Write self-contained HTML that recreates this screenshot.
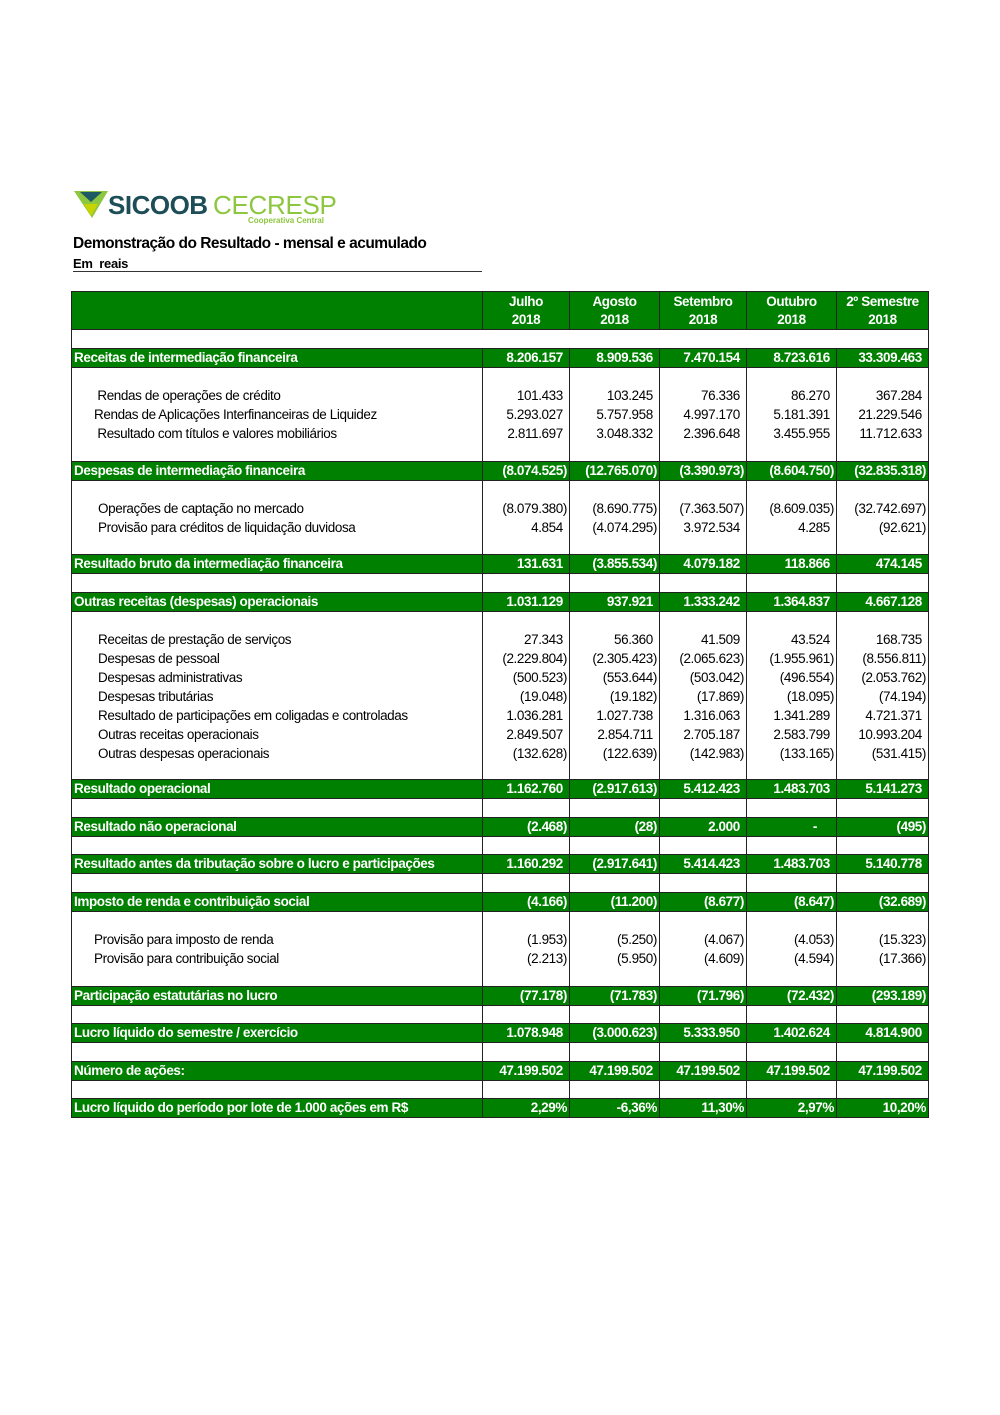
<!DOCTYPE html>
<html><head><meta charset="utf-8">
<style>
body{margin:0;width:1000px;height:1415px;background:#fff;position:relative;font-family:"Liberation Sans",Arial,sans-serif;}
.title{position:absolute;left:73px;top:235px;font-size:15.5px;font-weight:bold;letter-spacing:-0.5px;}
.sub{position:absolute;left:73px;top:256px;font-size:13px;font-weight:bold;letter-spacing:-0.3px;}
.hl{position:absolute;left:73px;top:271px;width:409px;height:1px;background:#333;}
table{position:absolute;left:71px;top:291px;border-collapse:collapse;table-layout:fixed;width:857px;}
td{border:1px solid #222;padding:0;font-size:13.5px;letter-spacing:-0.4px;overflow:hidden;white-space:nowrap;}
tr.g td{background:#008000;color:#fff;font-weight:bold;height:18px;line-height:18px;font-size:13.5px;}
tr.g td.l{padding-left:2px;}
td.n{text-align:right;padding-right:2px;}
.h td{background:#008000;color:#fff;font-weight:bold;text-align:center;line-height:18px;height:37px;font-size:13.5px;}
tr.d td{vertical-align:top;padding-top:18px;line-height:19px;}
tr.d td.n{padding-right:2px;}
tr.b td{height:18px;}
tr.b.s td{height:17px;}
.p{visibility:hidden;}
</style></head><body>
<svg style="position:absolute;left:72px;top:188px" width="272" height="40">
<polygon points="2,3 36,3 20,30" fill="#8dc63f"/>
<polygon points="8,4 30,4 19,14" fill="#1d5a63"/>
<polygon points="12,16 26,16 19,28" fill="#c8d400"/>
<text x="36" y="26" font-family="Liberation Sans,Arial,sans-serif" font-weight="bold" font-size="26" fill="#1d4d57" letter-spacing="-0.5">SICOOB</text>
<text x="141" y="26" font-family="Liberation Sans,Arial,sans-serif" font-size="26" fill="#8dc63f" letter-spacing="-0.3">CECRESP</text>
<text x="176" y="35" font-family="Liberation Sans,Arial,sans-serif" font-weight="bold" font-size="8" fill="#8dc63f">Cooperativa Central</text>
</svg>
<div class="title">Demonstração do Resultado - mensal e acumulado</div>
<div class="sub">Em&nbsp; reais</div>
<div class="hl"></div>
<table>
<colgroup><col style="width:411px"><col style="width:87px"><col style="width:90px"><col style="width:87px"><col style="width:90px"><col style="width:92px"></colgroup>
<tr class="h"><td></td><td>Julho<br>2018</td><td>Agosto<br>2018</td><td>Setembro<br>2018</td><td>Outubro<br>2018</td><td>2º Semestre<br>2018</td></tr>
<tr class="b"><td colspan="6"></td></tr>
<tr class="g"><td class="l">Receitas de intermediação financeira</td><td class="n">8.206.157<span class="p">)</span></td><td class="n">8.909.536<span class="p">)</span></td><td class="n">7.470.154<span class="p">)</span></td><td class="n">8.723.616<span class="p">)</span></td><td class="n">33.309.463<span class="p">)</span></td></tr>
<tr class="d" style="height:94px"><td style="padding-left:22px">&nbsp;Rendas de operações de crédito<br>Rendas de Aplicações Interfinanceiras de Liquidez<br>&nbsp;Resultado com títulos e valores mobiliários</td>
<td class="n">101.433<span class="p">)</span><br>5.293.027<span class="p">)</span><br>2.811.697<span class="p">)</span></td>
<td class="n">103.245<span class="p">)</span><br>5.757.958<span class="p">)</span><br>3.048.332<span class="p">)</span></td>
<td class="n">76.336<span class="p">)</span><br>4.997.170<span class="p">)</span><br>2.396.648<span class="p">)</span></td>
<td class="n">86.270<span class="p">)</span><br>5.181.391<span class="p">)</span><br>3.455.955<span class="p">)</span></td>
<td class="n">367.284<span class="p">)</span><br>21.229.546<span class="p">)</span><br>11.712.633<span class="p">)</span></td></tr>
<tr class="g"><td class="l">Despesas de intermediação financeira</td><td class="n">(8.074.525)</td><td class="n">(12.765.070)</td><td class="n">(3.390.973)</td><td class="n">(8.604.750)</td><td class="n">(32.835.318)</td></tr>
<tr class="d" style="height:74px"><td style="padding-left:26px">Operações de captação no mercado<br>Provisão para créditos de liquidação duvidosa</td>
<td class="n">(8.079.380)<br>4.854<span class="p">)</span></td>
<td class="n">(8.690.775)<br>(4.074.295)</td>
<td class="n">(7.363.507)<br>3.972.534<span class="p">)</span></td>
<td class="n">(8.609.035)<br>4.285<span class="p">)</span></td>
<td class="n">(32.742.697)<br>(92.621)</td></tr>
<tr class="g"><td class="l">Resultado bruto da intermediação financeira</td><td class="n">131.631<span class="p">)</span></td><td class="n">(3.855.534)</td><td class="n">4.079.182<span class="p">)</span></td><td class="n">118.866<span class="p">)</span></td><td class="n">474.145<span class="p">)</span></td></tr>
<tr class="b"><td></td><td></td><td></td><td></td><td></td><td></td></tr>
<tr class="g"><td class="l">Outras receitas (despesas) operacionais</td><td class="n">1.031.129<span class="p">)</span></td><td class="n">937.921<span class="p">)</span></td><td class="n">1.333.242<span class="p">)</span></td><td class="n">1.364.837<span class="p">)</span></td><td class="n">4.667.128<span class="p">)</span></td></tr>
<tr class="d" style="height:168px"><td style="padding-left:26px">Receitas de prestação de serviços<br>Despesas de pessoal<br>Despesas administrativas<br>Despesas tributárias<br>Resultado de participações em coligadas e controladas<br>Outras receitas operacionais<br>Outras despesas operacionais</td>
<td class="n">27.343<span class="p">)</span><br>(2.229.804)<br>(500.523)<br>(19.048)<br>1.036.281<span class="p">)</span><br>2.849.507<span class="p">)</span><br>(132.628)</td>
<td class="n">56.360<span class="p">)</span><br>(2.305.423)<br>(553.644)<br>(19.182)<br>1.027.738<span class="p">)</span><br>2.854.711<span class="p">)</span><br>(122.639)</td>
<td class="n">41.509<span class="p">)</span><br>(2.065.623)<br>(503.042)<br>(17.869)<br>1.316.063<span class="p">)</span><br>2.705.187<span class="p">)</span><br>(142.983)</td>
<td class="n">43.524<span class="p">)</span><br>(1.955.961)<br>(496.554)<br>(18.095)<br>1.341.289<span class="p">)</span><br>2.583.799<span class="p">)</span><br>(133.165)</td>
<td class="n">168.735<span class="p">)</span><br>(8.556.811)<br>(2.053.762)<br>(74.194)<br>4.721.371<span class="p">)</span><br>10.993.204<span class="p">)</span><br>(531.415)</td></tr>
<tr class="g"><td class="l">Resultado operacional</td><td class="n">1.162.760<span class="p">)</span></td><td class="n">(2.917.613)</td><td class="n">5.412.423<span class="p">)</span></td><td class="n">1.483.703<span class="p">)</span></td><td class="n">5.141.273<span class="p">)</span></td></tr>
<tr class="b"><td></td><td></td><td></td><td></td><td></td><td></td></tr>
<tr class="g"><td class="l">Resultado não operacional</td><td class="n">(2.468)</td><td class="n">(28)</td><td class="n">2.000<span class="p">)</span></td><td class="n" style="padding-right:19px">-</td><td class="n">(495)</td></tr>
<tr class="b s"><td></td><td></td><td></td><td></td><td></td><td></td></tr>
<tr class="g"><td class="l">Resultado antes da tributação sobre o lucro e participações</td><td class="n">1.160.292<span class="p">)</span></td><td class="n">(2.917.641)</td><td class="n">5.414.423<span class="p">)</span></td><td class="n">1.483.703<span class="p">)</span></td><td class="n">5.140.778<span class="p">)</span></td></tr>
<tr class="b"><td></td><td></td><td></td><td></td><td></td><td></td></tr>
<tr class="g"><td class="l">Imposto de renda e contribuição social</td><td class="n">(4.166)</td><td class="n">(11.200)</td><td class="n">(8.677)</td><td class="n">(8.647)</td><td class="n">(32.689)</td></tr>
<tr class="d" style="height:75px"><td style="padding-left:22px">Provisão para imposto de renda<br>Provisão para contribuição social</td>
<td class="n">(1.953)<br>(2.213)</td><td class="n">(5.250)<br>(5.950)</td><td class="n">(4.067)<br>(4.609)</td><td class="n">(4.053)<br>(4.594)</td><td class="n">(15.323)<br>(17.366)</td></tr>
<tr class="g"><td class="l">Participação estatutárias no lucro</td><td class="n">(77.178)</td><td class="n">(71.783)</td><td class="n">(71.796)</td><td class="n">(72.432)</td><td class="n">(293.189)</td></tr>
<tr class="b s"><td></td><td></td><td></td><td></td><td></td><td></td></tr>
<tr class="g"><td class="l">Lucro líquido do semestre / exercício</td><td class="n">1.078.948<span class="p">)</span></td><td class="n">(3.000.623)</td><td class="n">5.333.950<span class="p">)</span></td><td class="n">1.402.624<span class="p">)</span></td><td class="n">4.814.900<span class="p">)</span></td></tr>
<tr class="b"><td></td><td></td><td></td><td></td><td></td><td></td></tr>
<tr class="g"><td class="l">Número de ações:</td><td class="n">47.199.502<span class="p">)</span></td><td class="n">47.199.502<span class="p">)</span></td><td class="n">47.199.502<span class="p">)</span></td><td class="n">47.199.502<span class="p">)</span></td><td class="n">47.199.502<span class="p">)</span></td></tr>
<tr class="b s"><td></td><td></td><td></td><td></td><td></td><td></td></tr>
<tr class="g"><td class="l">Lucro líquido do período por lote de 1.000 ações em R$</td><td class="n">2,29%</td><td class="n">-6,36%</td><td class="n">11,30%</td><td class="n">2,97%</td><td class="n">10,20%</td></tr>
</table>
</body></html>
